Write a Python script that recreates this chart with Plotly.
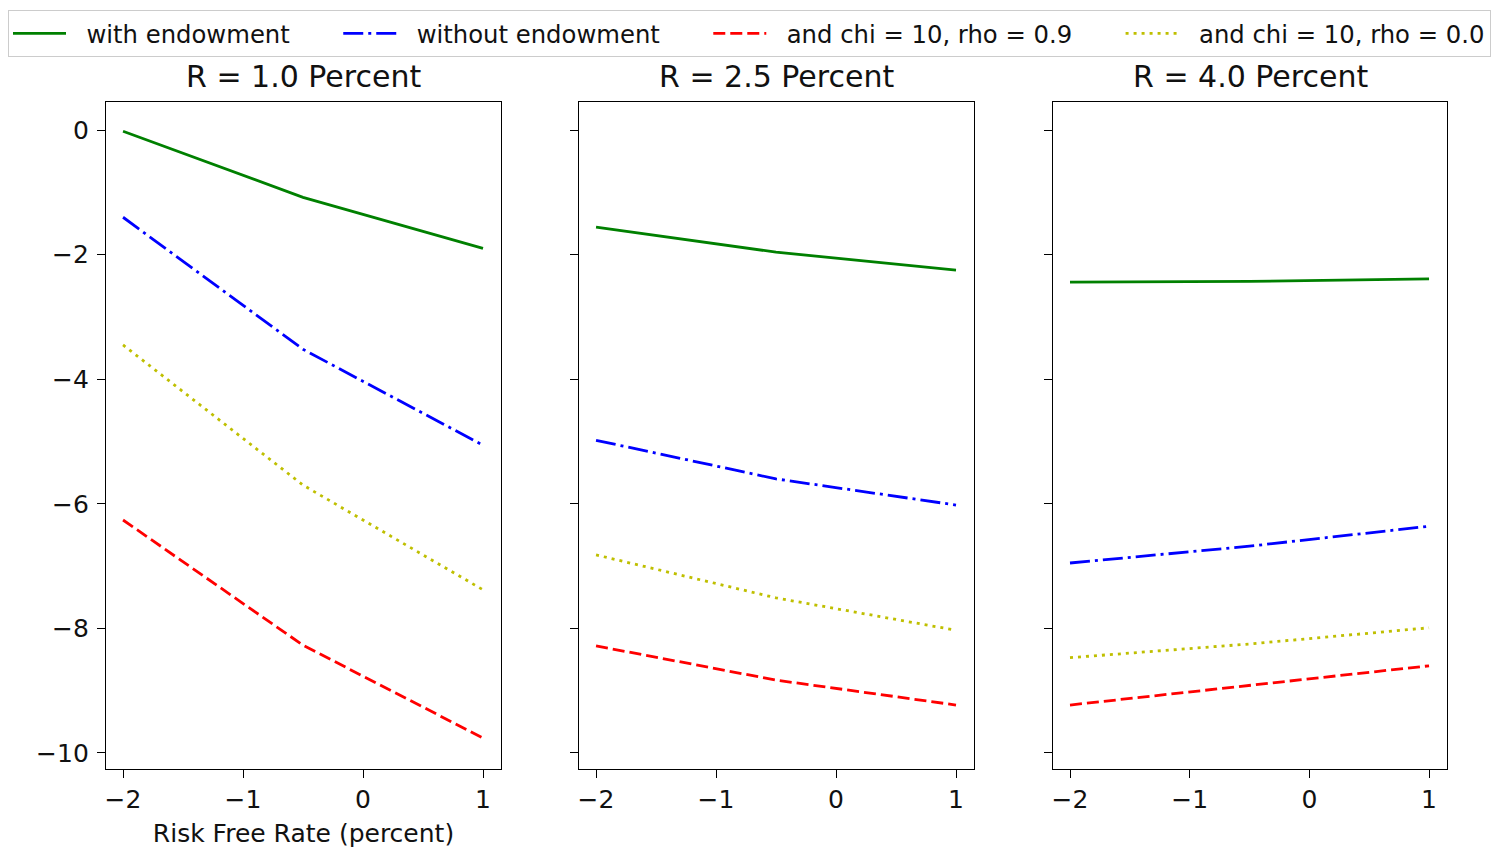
import plotly.graph_objects as go

W, H = 1501, 850

rf = [-2.0, -0.5, 1.0]
panel_titles = ["R = 1.0 Percent", "R = 2.5 Percent", "R = 4.0 Percent"]
series_names = ["with endowment", "without endowment", "and chi = 10, rho = 0.9", "and chi = 10, rho = 0.0"]

# values per panel (R = 1.0, 2.5, 4.0)
with_endow = [[-0.02, -1.08, -1.90], [-1.56, -1.96, -2.25], [-2.44, -2.43, -2.39]]
without_endow = [[-1.40, -3.52, -5.06], [-4.98, -5.60, -6.02], [-6.95, -6.68, -6.36]]
chi_rho09 = [[-6.26, -8.27, -9.76], [-8.28, -8.83, -9.23], [-9.23, -8.92, -8.60]]
chi_rho00 = [[-3.45, -5.70, -7.38], [-6.82, -7.51, -8.03], [-8.47, -8.25, -7.99]]

x_ticks = [-2, -1, 0, 1]
y_ticks = [0, -2, -4, -6, -8, -10]

colors = ["#008000", "#0000ff", "#ff0000", "#bfbf00"]
dashes = ["solid", "20px,5px,3px,5px", "12px,5px", "3px,5px"]
data = [with_endow, without_endow, chi_rho09, chi_rho00]

NB = "\u00a0"
legend_labels = [NB * 2 + n + (NB * 5 + "\u2009" if i < 3 else "") for i, n in enumerate(series_names)]

FONT = "DejaVu Sans"
TXT = "#111"
fig = go.Figure()

x_doms = [(106, 501), (579, 974), (1053, 1447)]
y_dom = (1 - 769 / H, 1 - 102 / H)

for p in range(3):
    xa = "x" if p == 0 else f"x{p+1}"
    ya = "y" if p == 0 else f"y{p+1}"
    for s in range(4):
        fig.add_trace(go.Scatter(
            x=rf, y=data[s][p], mode="lines", name=legend_labels[s],
            line=dict(color=colors[s], width=2.8, dash=dashes[s]),
            showlegend=(p == 0), legendgroup=series_names[s],
            xaxis=xa, yaxis=ya,
        ))

layout = dict(
    width=W, height=H,
    margin=dict(l=0, r=0, t=0, b=0),
    paper_bgcolor="white", plot_bgcolor="white",
    font=dict(family=FONT, size=25, color=TXT),
    legend=dict(orientation="h", x=8 / W, y=1 - 10 / H, xanchor="left", yanchor="top",
                bordercolor="#cccccc", borderwidth=1, bgcolor="white",
                font=dict(size=24.3, family=FONT, color=TXT), itemwidth=53,
                tracegroupgap=0),
    annotations=[],
)

for p in range(3):
    xk = "xaxis" if p == 0 else f"xaxis{p+1}"
    yk = "yaxis" if p == 0 else f"yaxis{p+1}"
    x0, x1 = x_doms[p]
    layout[xk] = dict(
        domain=[x0 / W, x1 / W], range=[-2.142, 1.15],
        tickvals=x_ticks, ticktext=["\u22122", "\u22121", "0", "1"],
        ticks="outside", ticklen=8, tickwidth=1.3, tickcolor="black",
        showline=True, linecolor="black", linewidth=1.3, mirror=True,
        showgrid=False, zeroline=False, anchor="y" if p == 0 else f"y{p+1}",
        tickfont=dict(size=25, family=FONT, color=TXT),
    )
    layout[yk] = dict(
        domain=list(y_dom), range=[-10.257, 0.45],
        tickvals=y_ticks,
        ticktext=["0", "\u22122", "\u22124", "\u22126", "\u22128", "\u221210"] if p == 0 else [""] * 6,
        ticks="outside", ticklen=8, tickwidth=1.3, tickcolor="black",
        showline=True, linecolor="black", linewidth=1.3, mirror=True,
        showgrid=False, zeroline=False, anchor="x" if p == 0 else f"x{p+1}",
        tickfont=dict(size=25, family=FONT, color=TXT), ticklabelstandoff=3,
    )
    layout["annotations"].append(dict(
        text=panel_titles[p], xref="paper", yref="paper",
        x=(x0 + x1) / 2 / W, y=1 - 77 / H, xanchor="center", yanchor="middle",
        showarrow=False, font=dict(size=30, family=FONT, color=TXT),
    ))

layout["xaxis"]["title"] = dict(text="Risk Free Rate (percent)", font=dict(size=25, family=FONT, color=TXT), standoff=11)

fig.update_layout(**layout)
fig.write_html("out.html")
